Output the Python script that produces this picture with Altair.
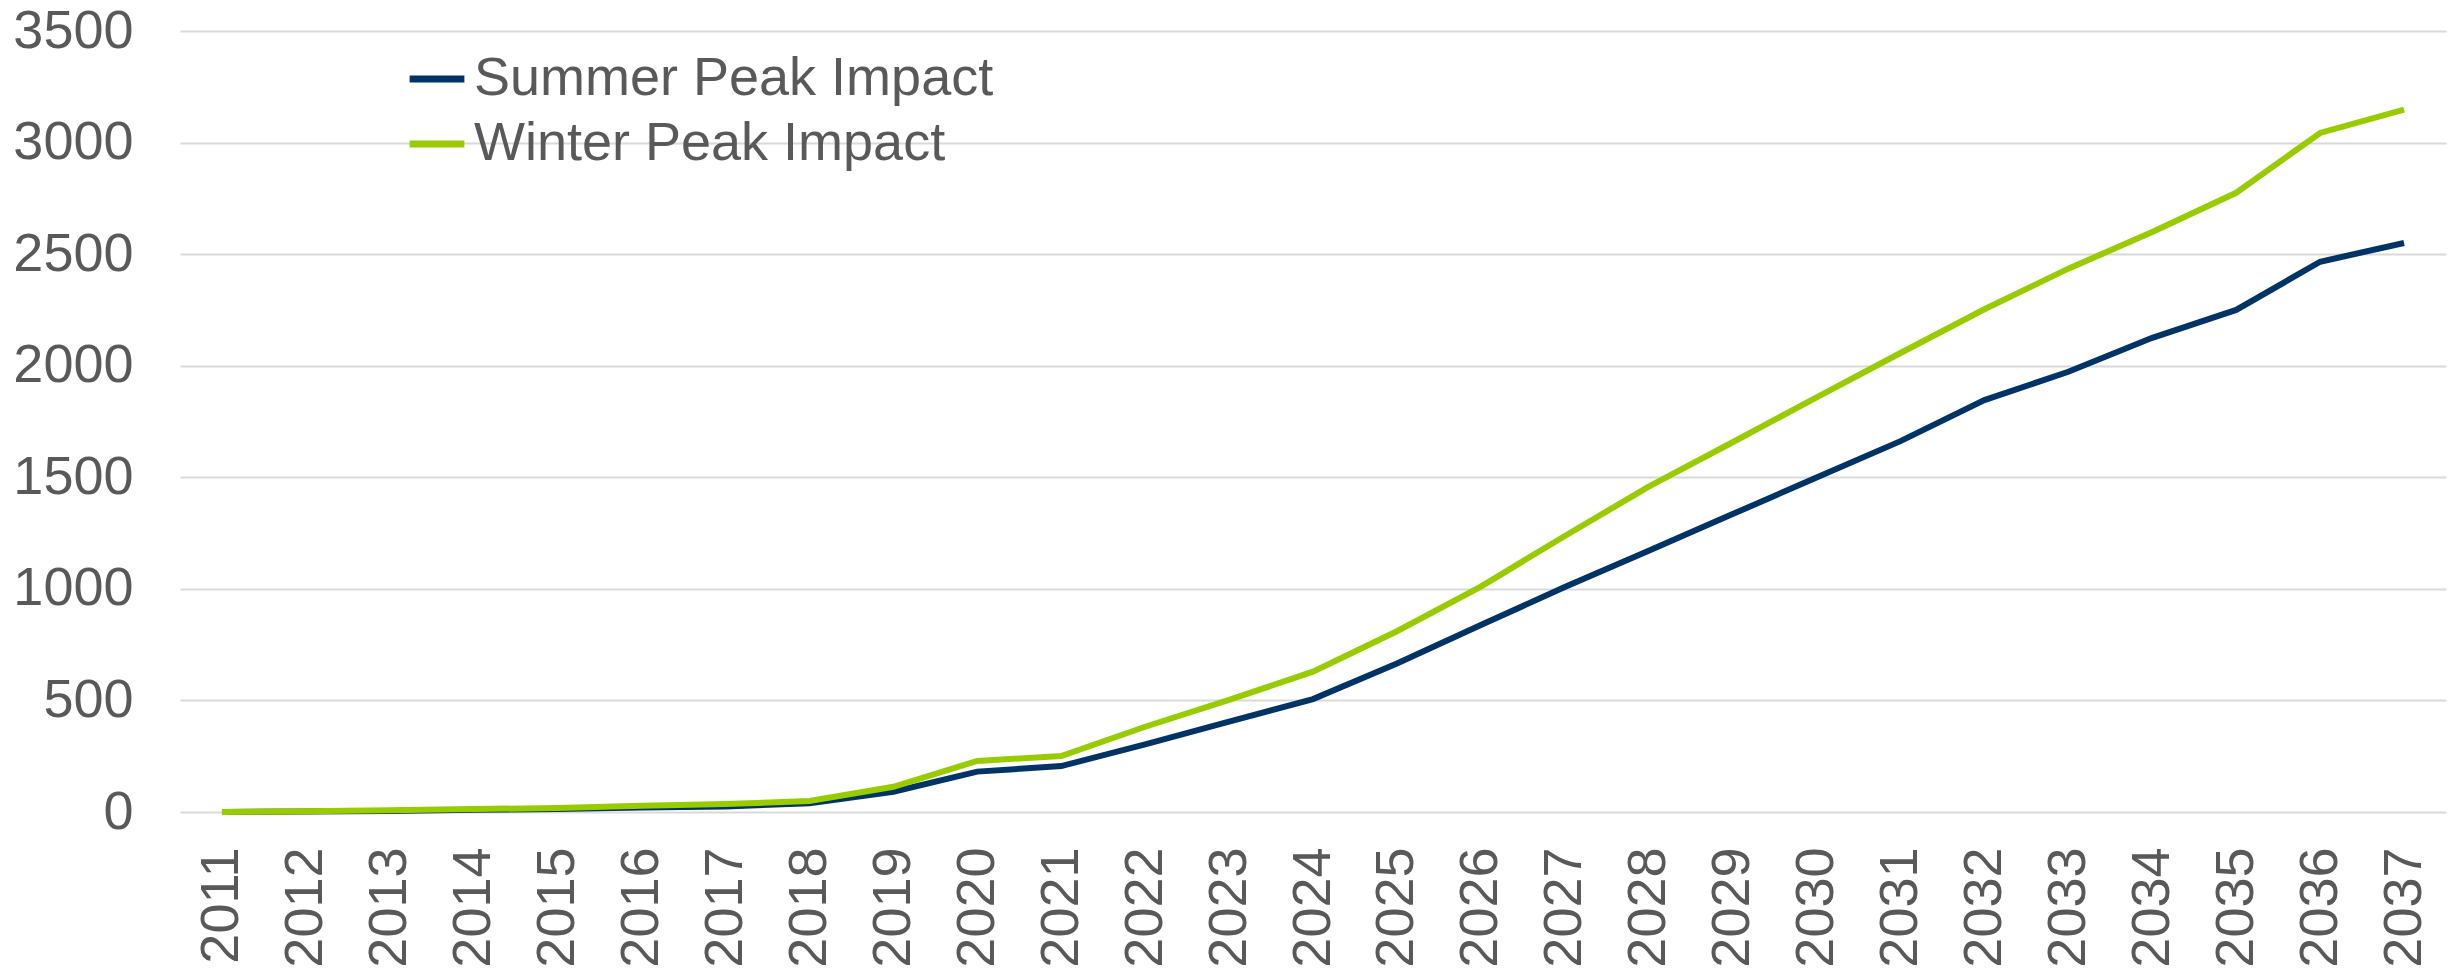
import altair as alt
import pandas as pd

years = [str(y) for y in range(2011, 2038)]
summer = [0, 2, 5, 10, 14, 20, 25, 39, 91, 181, 206, 303, 405, 506, 666, 838,
          1008, 1171, 1335, 1499, 1662, 1846, 1973, 2125, 2250, 2466, 2550]
winter = [0, 3, 8, 13, 18, 28, 36, 49, 113, 229, 251, 382, 502, 629, 810, 1010,
          1237, 1458, 1657, 1858, 2057, 2253, 2435, 2599, 2775, 3043, 3148]
series_names = ["Summer Peak Impact", "Winter Peak Impact"]
colors = ["#003366", "#99CC00"]
y_ticks = [0, 500, 1000, 1500, 2000, 2500, 3000, 3500]

df = pd.DataFrame({
    "Year": years * 2,
    "Value": summer + winter,
    "Series": [series_names[0]] * len(years) + [series_names[1]] * len(years),
})

FONT = "Liberation Sans"
GREY = "#595959"

chart = alt.Chart(df).mark_line(strokeWidth=6).encode(
    x=alt.X("Year:O", sort=years,
            scale=alt.Scale(type="point", padding=0.5),
            axis=alt.Axis(title=None, labelAngle=270, labelFontSize=54, labelFont=FONT,
                          labelColor=GREY, ticks=False, domain=False, grid=False,
                          labelPadding=35)),
    y=alt.Y("Value:Q",
            scale=alt.Scale(domain=[0, 3500], nice=False),
            axis=alt.Axis(title=None, values=y_ticks, format="d", labelFontSize=54,
                          labelFont=FONT, labelColor=GREY, ticks=False, domain=False,
                          grid=True, gridColor="#D9D9D9", gridWidth=2, labelPadding=47)),
    color=alt.Color("Series:N",
                    scale=alt.Scale(domain=series_names, range=colors),
                    legend=alt.Legend(title=None, orient="none", legendX=226, legendY=17,
                                      symbolType="stroke", symbolStrokeWidth=7,
                                      symbolSize=3000, labelFontSize=54, labelFont=FONT,
                                      labelColor=GREY, labelOffset=6, rowPadding=7,
                                      labelLimit=1000)),
    order=alt.Order("Series:N"),
).properties(
    width=2266, height=781,
    autosize=alt.AutoSizeParams(type="none"),
    padding={"left": 180, "top": 31, "right": 12, "bottom": 156},
).configure_view(stroke=None)

chart.save("out.html", embed_options={"renderer": "svg", "actions": False})
